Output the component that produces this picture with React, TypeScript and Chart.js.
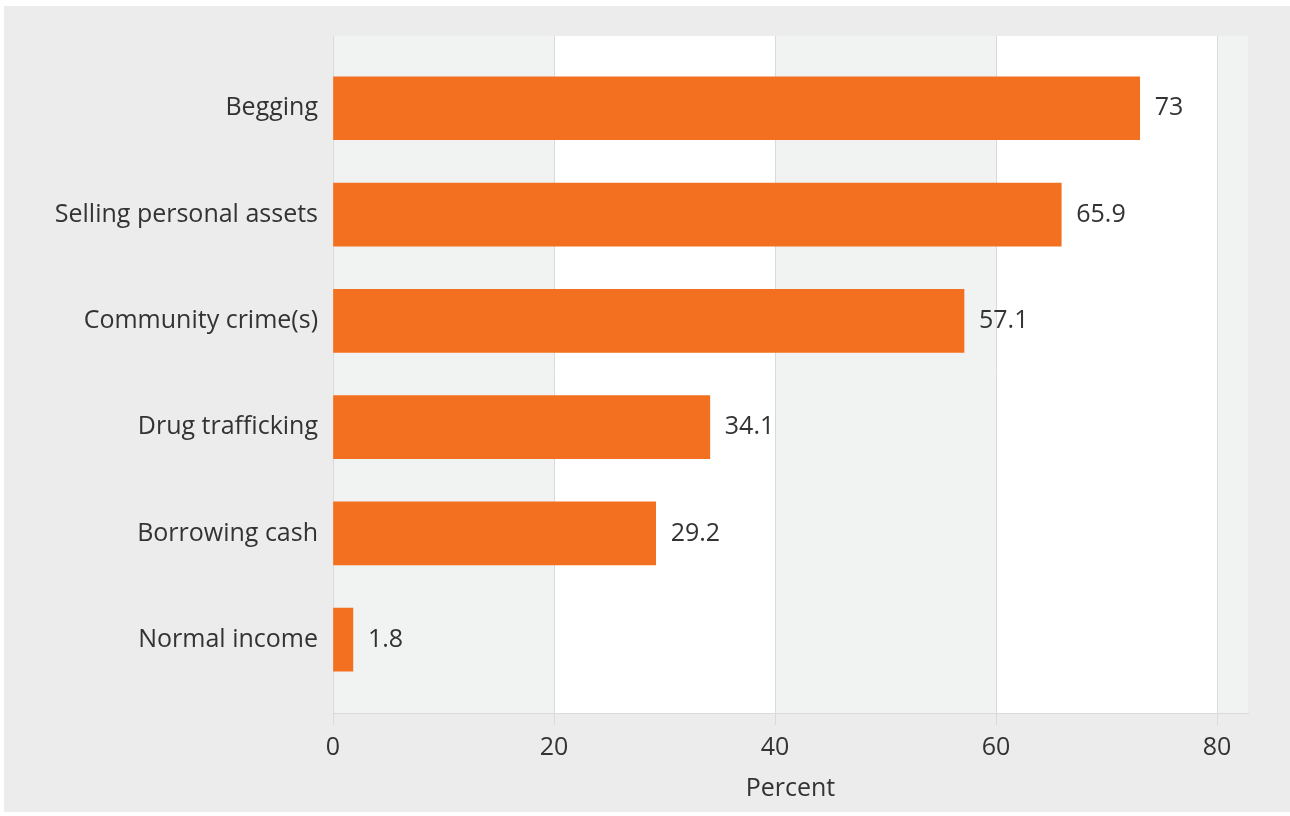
import React, { useEffect, useRef } from "react";
import { Chart, registerables } from "chart.js";

Chart.register(...registerables);

const categories = [
  "Begging",
  "Selling personal assets",
  "Community crime(s)",
  "Drug trafficking",
  "Borrowing cash",
  "Normal income",
];
const percentValues = [73, 65.9, 57.1, 34.1, 29.2, 1.8];
const valueLabels = ["73", "65.9", "57.1", "34.1", "29.2", "1.8"];
const xTicks = [0, 20, 40, 60, 80];
const grayBands: [number, number][] = [
  [0, 20],
  [40, 60],
  [80, 100],
];

const FONT = "'Open Sans', 'Noto Sans', sans-serif";
const FS = 25;
const TEXT = "#333333";
const GRID = "#d9dadb";

const W = 1286;
const H = 806;

export default function App() {
  const ref = useRef<HTMLCanvasElement | null>(null);

  useEffect(() => {
    if (!ref.current) return;

    const bandPlugin = {
      id: "bands",
      beforeDraw(chart: any) {
        const { ctx, chartArea, scales } = chart;
        const x = scales.x;
        ctx.save();
        ctx.fillStyle = "#ffffff";
        ctx.fillRect(chartArea.left, chartArea.top, chartArea.right - chartArea.left, chartArea.bottom - chartArea.top);
        ctx.fillStyle = "#f1f2f2";
        for (const [a, b] of grayBands) {
          const x0 = Math.max(chartArea.left, x.getPixelForValue(a));
          const x1 = Math.min(chartArea.right, x.getPixelForValue(b));
          if (x1 > x0) ctx.fillRect(x0, chartArea.top, x1 - x0, chartArea.bottom - chartArea.top);
        }
        ctx.restore();
      },
    };

    const labelPlugin = {
      id: "valueLabels",
      afterDatasetsDraw(chart: any) {
        const { ctx } = chart;
        const meta = chart.getDatasetMeta(0);
        ctx.save();
        ctx.font = `${FS}px ${FONT}`;
        ctx.fillStyle = TEXT;
        ctx.textAlign = "left";
        ctx.textBaseline = "middle";
        meta.data.forEach((bar: any, i: number) => {
          ctx.fillText(valueLabels[i], bar.x + 15, bar.y);
        });
        ctx.restore();
      },
    };

    const chart = new Chart(ref.current, {
      type: "bar",
      data: {
        datasets: [
          {
            data: percentValues.map((v, i) => ({ x: v, y: i })),
            backgroundColor: "#f37021",
            borderWidth: 0,
            barThickness: 63,
          },
        ],
      },
      options: {
        indexAxis: "y",
        responsive: false,
        animation: false,
        layout: { padding: { top: 29, right: 42, left: 0, bottom: 0 } },
        plugins: { legend: { display: false }, tooltip: { enabled: false } },
        scales: {
          x: {
            type: "linear",
            min: 0,
            max: 82.8,
            afterBuildTicks: (s: any) => {
              s.ticks = xTicks.map((v) => ({ value: v }));
            },
            afterFit: (s: any) => {
              s.height = 99;
            },
            grid: { color: GRID, lineWidth: 1, tickLength: 12, drawTicks: true },
            border: { display: true, color: GRID },
            ticks: { color: TEXT, font: { family: FONT, size: FS }, padding: 8, maxRotation: 0 },
            title: {
              display: true,
              text: "Percent",
              color: TEXT,
              font: { family: FONT, size: FS },
              padding: { top: 0, bottom: 8 },
            },
          },
          y: {
            type: "linear",
            reverse: true,
            offset: false,
            min: -0.68,
            max: 5.69,
            afterBuildTicks: (s: any) => {
              s.ticks = categories.map((_, i) => ({ value: i }));
            },
            afterFit: (s: any) => {
              s.width = 329;
            },
            grid: { display: false, drawTicks: false },
            border: { display: true, color: GRID },
            ticks: {
              color: TEXT,
              font: { family: FONT, size: FS },
              padding: 15,
              callback: (v: any) => categories[Math.round(Number(v))] ?? "",
            },
          },
        },
      },
      plugins: [bandPlugin, labelPlugin],
    } as any);

    return () => chart.destroy();
  }, []);

  return (
    <div style={{ position: "fixed", left: 0, top: 0, width: 1290, height: 816, background: "#ffffff" }}>
      <div style={{ position: "absolute", left: 4, top: 6, width: W, height: H, background: "#ececec" }}>
        <canvas ref={ref} width={W} height={H} style={{ display: "block", width: W, height: H }} />
      </div>
    </div>
  );
}
